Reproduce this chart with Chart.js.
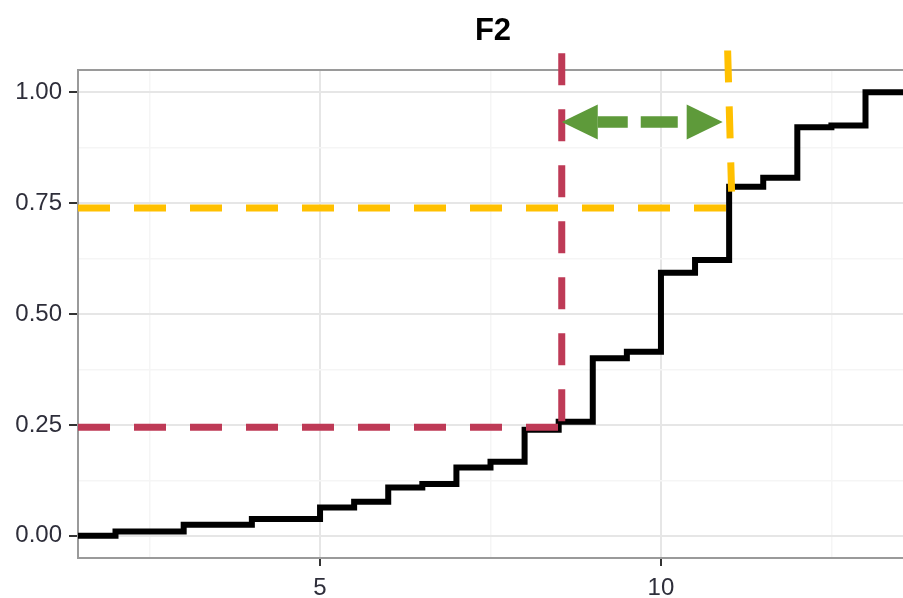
<!DOCTYPE html>
<html>
<head>
<meta charset="utf-8">
<script src="https://cdn.jsdelivr.net/npm/chart.js@4/dist/chart.umd.min.js"></script>
<style>
  html, body { margin: 0; padding: 0; background: #fff; }
  #wrap { width: 903px; height: 598px; position: relative; }
</style>
</head>
<body>
<div id="wrap"><canvas id="chart"></canvas></div>
<script>
// ECDF of F2 (jump positions and cumulative levels)
const stepX = [2, 3, 4, 5, 5.5, 6, 6.5, 7, 7.5, 8, 8.5, 9, 9.5, 10, 10.5, 11, 11.5, 12, 12.5, 13];
const stepY = [0.01, 0.025, 0.038, 0.064, 0.077, 0.109, 0.117, 0.154, 0.167, 0.239, 0.257, 0.40, 0.415, 0.593, 0.622, 0.787, 0.807, 0.921, 0.925, 1.0];

// axis limits and ticks
const xLimits = [1.45, 13.55];
const yLimits = [-0.05, 1.05];
const xTickValues = [5, 10];
const xTickLabels = ['5', '10'];
const xMinorTicks = [2.5, 7.5, 12.5];
const yTickValues = [0, 0.25, 0.5, 0.75, 1];
const yTickLabels = ['0.00', '0.25', '0.50', '0.75', '1.00'];
const yMinorTicks = [0.125, 0.375, 0.625, 0.875];

// guide lines
const lowQuantileY = 0.245;     // red horizontal
const lowQuantileX = 8.545;     // red vertical
const lowLineTop = 1.088;
const highQuantileY = 0.739;    // yellow horizontal
const highLineEndX = 10.953;
const highVertX = [10.978, 11.036];
const highVertY = [1.094, 0.776];
const arrowY = 0.933;
const arrowX = [8.545, 10.905];

const titleText = 'F2';

const RED = '#BE3A56';
const GOLD = '#FFC000';
const GREEN = '#5E9A3A';
const FONT = '"Liberation Sans", Arial, sans-serif';
const TICK_TEXT = '#2E2E3A';

const ecdfPoints = [{ x: xLimits[0], y: 0 }]
  .concat(stepX.map((x, i) => ({ x: x, y: stepY[i] })))
  .concat([{ x: xLimits[1], y: 1 }]);

const isIn = (arr, v) => arr.some(a => Math.abs(a - v) < 1e-9);

const panelBorder = {
  id: 'panelBorder',
  beforeDatasetsDraw(chart) {
    const { ctx, chartArea: a } = chart;
    ctx.save();
    ctx.strokeStyle = '#9A9A9A';
    ctx.lineWidth = 2;
    ctx.beginPath();
    ctx.moveTo(a.right + 5, a.top);
    ctx.lineTo(a.left, a.top);
    ctx.lineTo(a.left, a.bottom);
    ctx.lineTo(a.right + 5, a.bottom);
    ctx.stroke();
    ctx.restore();
  }
};

const arrowPlugin = {
  id: 'arrow',
  afterDatasetsDraw(chart) {
    const { ctx } = chart;
    const xs = chart.scales.x, ys = chart.scales.y;
    const py = ys.getPixelForValue(arrowY);
    const x1 = xs.getPixelForValue(arrowX[0]);
    const x2 = xs.getPixelForValue(arrowX[1]);
    const head = 36, half = 17.5;
    ctx.save();
    ctx.strokeStyle = GREEN;
    ctx.fillStyle = GREEN;
    ctx.lineWidth = 11.5;
    ctx.setLineDash([30, 13, 37, 20]);
    ctx.beginPath();
    ctx.moveTo(x1 + head, py);
    ctx.lineTo(x2 - head, py);
    ctx.stroke();
    ctx.setLineDash([]);
    ctx.beginPath();
    ctx.moveTo(x1, py);
    ctx.lineTo(x1 + head, py - half);
    ctx.lineTo(x1 + head, py + half);
    ctx.closePath();
    ctx.fill();
    ctx.beginPath();
    ctx.moveTo(x2, py);
    ctx.lineTo(x2 - head, py - half);
    ctx.lineTo(x2 - head, py + half);
    ctx.closePath();
    ctx.fill();
    ctx.restore();
  }
};

const titlePlugin = {
  id: 'plotTitle',
  afterDraw(chart) {
    const { ctx } = chart;
    ctx.save();
    ctx.font = 'bold 31px ' + FONT;
    ctx.fillStyle = '#000';
    ctx.textAlign = 'center';
    ctx.textBaseline = 'alphabetic';
    ctx.fillText(titleText, 493, 39.5);
    ctx.restore();
  }
};

function guide(data, color) {
  return {
    data: data,
    borderColor: color,
    borderWidth: 7,
    borderDash: [32, 24],
    pointRadius: 0,
    showLine: true,
    clip: false,
    fill: false
  };
}

const datasets = [
  guide([{ x: lowQuantileX, y: lowLineTop }, { x: lowQuantileX, y: lowQuantileY }], RED),
  guide([{ x: xLimits[0], y: lowQuantileY }, { x: lowQuantileX - 0.04, y: lowQuantileY }], RED),
  guide([{ x: highVertX[0], y: highVertY[0] }, { x: highVertX[1], y: highVertY[1] }], GOLD),
  guide([{ x: xLimits[0], y: highQuantileY }, { x: highLineEndX, y: highQuantileY }], GOLD),
  {
    data: ecdfPoints,
    borderColor: '#000',
    borderWidth: 6,
    borderJoinStyle: 'miter',
    stepped: 'before',
    pointRadius: 0,
    showLine: true,
    fill: false
  }
];

new Chart(document.getElementById('chart'), {
  type: 'scatter',
  data: { datasets: datasets },
  options: {
    responsive: true,
    maintainAspectRatio: false,
    animation: false,
    layout: { padding: { top: 70, right: 0, bottom: 0, left: 0 } },
    plugins: {
      legend: { display: false },
      tooltip: { enabled: false },
      title: { display: false }
    },
    scales: {
      x: {
        type: 'linear',
        min: xLimits[0],
        max: xLimits[1],
        afterBuildTicks: s => { s.ticks = xMinorTicks.concat(xTickValues).sort((a, b) => a - b).map(v => ({ value: v })); },
        afterFit: s => { s.height = 40; s.paddingLeft = 0; s.paddingRight = 0; },
        ticks: {
          autoSkip: false,
          maxRotation: 0,
          padding: 8,
          color: TICK_TEXT,
          font: { family: FONT, size: 24 },
          callback: v => { const i = xTickValues.findIndex(t => Math.abs(t - v) < 1e-9); return i >= 0 ? xTickLabels[i] : ''; }
        },
        grid: {
          color: c => isIn(xTickValues, c.tick.value) ? '#E6E6E6' : '#F5F5F5',
          lineWidth: c => isIn(xTickValues, c.tick.value) ? 2 : 1.5,
          tickColor: c => isIn(xTickValues, c.tick.value) ? '#333' : 'rgba(0,0,0,0)',
          tickLength: 8,
          tickWidth: 2
        },
        border: { display: false }
      },
      y: {
        type: 'linear',
        min: yLimits[0],
        max: yLimits[1],
        afterBuildTicks: s => { s.ticks = yMinorTicks.concat(yTickValues).sort((a, b) => a - b).map(v => ({ value: v })); },
        afterFit: s => { s.width = 78; s.paddingTop = 0; s.paddingBottom = 0; },
        ticks: {
          autoSkip: false,
          padding: 7,
          color: TICK_TEXT,
          font: { family: FONT, size: 24 },
          callback: v => { const i = yTickValues.findIndex(t => Math.abs(t - v) < 1e-9); return i >= 0 ? yTickLabels[i] : ''; }
        },
        grid: {
          color: c => isIn(yTickValues, c.tick.value) ? '#E6E6E6' : '#F5F5F5',
          lineWidth: c => isIn(yTickValues, c.tick.value) ? 2 : 1.5,
          tickColor: c => isIn(yTickValues, c.tick.value) ? '#333' : 'rgba(0,0,0,0)',
          tickLength: 9,
          tickWidth: 2
        },
        border: { display: false }
      }
    }
  },
  plugins: [panelBorder, arrowPlugin, titlePlugin]
});
</script>
</body>
</html>
